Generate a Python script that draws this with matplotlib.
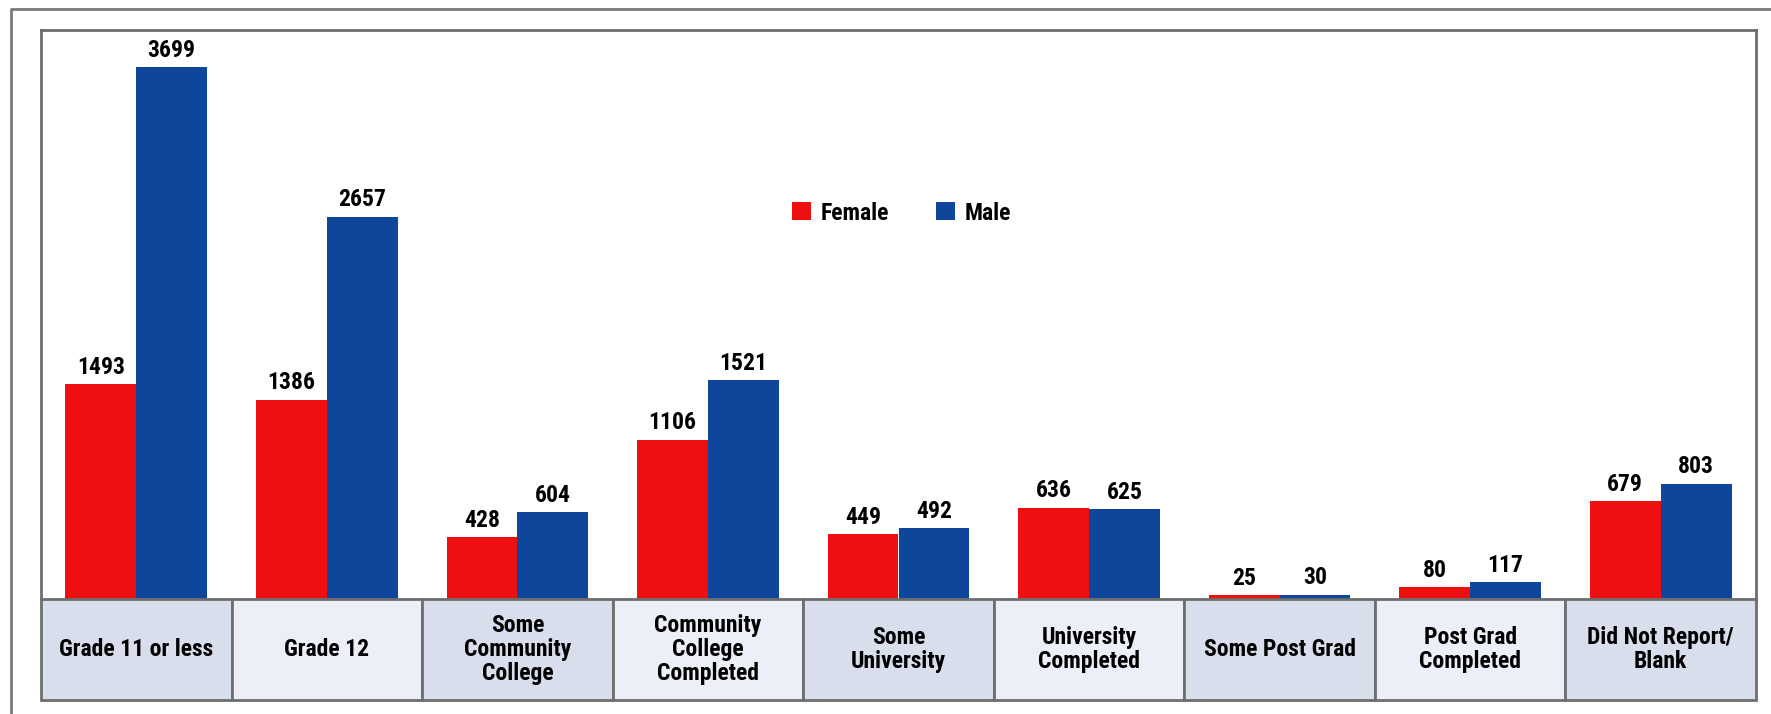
import matplotlib.pyplot as plt
from matplotlib import font_manager
from matplotlib.patches import Rectangle
from matplotlib.lines import Line2D
import matplotlib.transforms as mtransforms
import numpy as np

categories = ["Grade 11 or less", "Grade 12", "Some\nCommunity\nCollege",
              "Community\nCollege\nCompleted", "Some\nUniversity", "University\nCompleted",
              "Some Post Grad", "Post Grad\nCompleted", "Did Not Report/\nBlank"]
female = [1493, 1386, 428, 1106, 449, 636, 25, 80, 679]
male = [3699, 2657, 604, 1521, 492, 625, 30, 117, 803]

red = "#ee1010"
blue = "#0e469b"
frame_grey = "#6e6e6e"
cell_dark = "#d9deed"
cell_light = "#eceff7"

# prefer a narrow bold face if one is installed
fonts = {(f.name, f.stretch) for f in font_manager.fontManager.ttflist}
names = {n for n, s in fonts}
txt = {"family": "DejaVu Sans"}
fs = 14
if "Roboto Condensed" in names:
    txt = {"family": "Roboto Condensed"}
    fs = 17
else:
    for name in ["Liberation Sans Narrow", "DejaVu Sans"]:
        if any(n == name and s in ("condensed", "semi-condensed") for n, s in fonts):
            txt = {"family": name, "fontstretch": "condensed"}
            fs = 15
            break
legend_prop = {("stretch" if k == "fontstretch" else k): v for k, v in txt.items()}

fig = plt.figure(figsize=(17.71, 7.14), dpi=100)
ax = fig.add_axes([41 / 1771, 115 / 714, 1715 / 1771, 569 / 714])

x = np.arange(len(categories))
w = 0.372
bars_f = ax.bar(x - w / 2, female, w, color=red, label="Female")
bars_m = ax.bar(x + w / 2, male, w, color=blue, label="Male")

for bars in (bars_f, bars_m):
    for b in bars:
        ax.annotate(f"{int(b.get_height())}", (b.get_x() + b.get_width() / 2, b.get_height()),
                    xytext=(0, 4), textcoords="offset points", ha="center", va="bottom",
                    fontsize=fs, fontweight="bold", **txt)

ax.set_xlim(-0.5, len(categories) - 0.5)
ax.set_ylim(0, 3957)
ax.set_xticks([])
ax.set_yticks([])
for side in ["left", "top", "right"]:
    ax.spines[side].set_color(frame_grey)
    ax.spines[side].set_linewidth(2)
ax.spines["bottom"].set_visible(False)

# category table under the bars
trans = mtransforms.blended_transform_factory(ax.transData, ax.transAxes)
cell_h = 101 / 569
for i, cat in enumerate(categories):
    color = cell_dark if i % 2 == 0 else cell_light
    ax.add_patch(Rectangle((i - 0.5, -cell_h), 1, cell_h, transform=trans,
                           facecolor=color, edgecolor=frame_grey, linewidth=2, clip_on=False))
    ax.text(i, -cell_h / 2, cat, transform=trans, ha="center", va="center",
            fontsize=fs, fontweight="bold", linespacing=1.05, **txt)

# outer frame (open on right and bottom)
fig.add_artist(Line2D([11 / 1771, 11 / 1771, 1.0], [0.0, 1 - 9 / 714, 1 - 9 / 714],
                      color="#7a7a7a", linewidth=2, transform=fig.transFigure))

fig.legend(handles=[bars_f, bars_m], loc="center", bbox_to_anchor=(0.509, 1 - 213 / 714),
           ncol=2, frameon=False, handlelength=0.8, handleheight=0.8,
           handletextpad=0.4, columnspacing=2.0,
           prop=dict(weight="bold", size=fs, **legend_prop))

fig.savefig("out.png", dpi=100)
